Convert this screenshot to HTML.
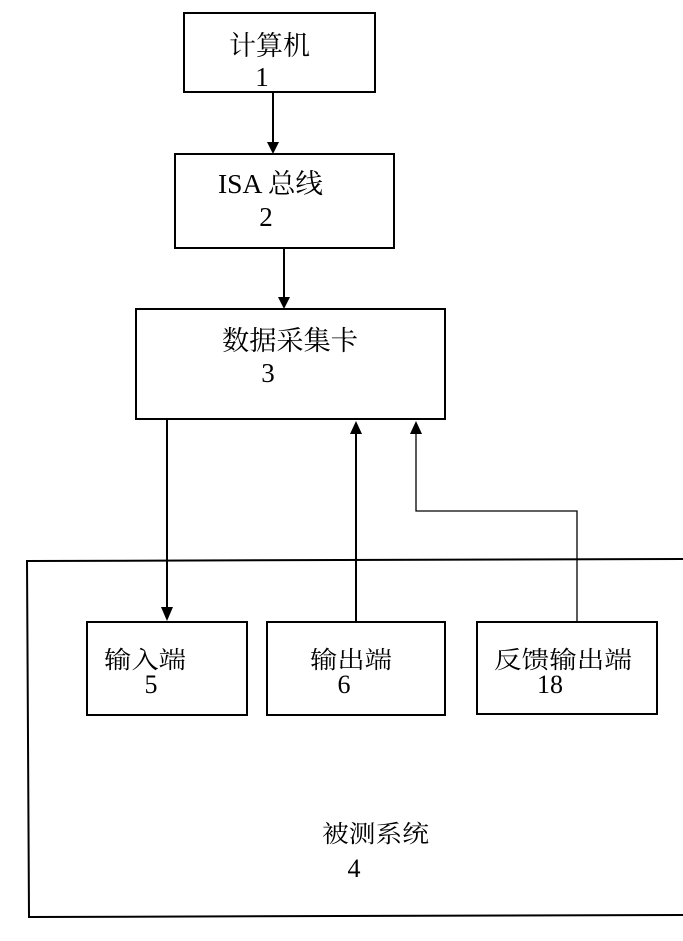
<!DOCTYPE html>
<html><head><meta charset="utf-8"><style>
html,body{margin:0;padding:0;background:#fff;}
svg{display:block;}
text{font-family:"Liberation Serif","Noto Serif CJK SC","Noto Sans CJK SC",serif;fill:#000;}
</style></head><body>
<svg width="683" height="941" viewBox="0 0 683 941" xmlns="http://www.w3.org/2000/svg">
<g fill="none" stroke="#000" stroke-width="2">
<rect x="184" y="13" width="191" height="79"/>
<rect x="175" y="154" width="219" height="94"/>
<rect x="136" y="309" width="309" height="110"/>
<rect x="87" y="622" width="160" height="93"/>
<rect x="267" y="622" width="178" height="93"/>
<rect x="477" y="622" width="180" height="92"/>
<polyline points="683,559 27,561 29,917 683,915"/>
<line x1="273" y1="92" x2="273" y2="142"/>
<line x1="284" y1="248" x2="284" y2="298"/>
<line x1="167" y1="419" x2="167" y2="608"/>
<line x1="356" y1="622" x2="356" y2="434"/>
</g>
<polyline points="577,622 577,511 416,511 416,434" fill="none" stroke="#000" stroke-width="1.3"/>
<g fill="#000">
<polygon points="267,142 279,142 273,154"/>
<polygon points="278,297 290,297 284,309"/>
<polygon points="161,607 173,607 167,621"/>
<polygon points="350,434 362,434 356,421"/>
<polygon points="410,434 422,434 416,421"/>
</g>
<g font-size="27">
<text x="229" y="55" textLength="81" lengthAdjust="spacingAndGlyphs">计算机</text>
<text x="218" y="193" textLength="105" lengthAdjust="spacingAndGlyphs">ISA 总线</text>
<text x="222" y="350" textLength="136" lengthAdjust="spacingAndGlyphs">数据采集卡</text>
</g>
<g font-size="27">
<text x="262" y="86" text-anchor="middle">1</text>
<text x="266" y="226" text-anchor="middle">2</text>
<text x="268" y="382" text-anchor="middle">3</text>
</g>
<g font-size="24">
<text x="104" y="668" textLength="82" lengthAdjust="spacingAndGlyphs">输入端</text>
<text x="310" y="668" textLength="82" lengthAdjust="spacingAndGlyphs">输出端</text>
<text x="494" y="668" textLength="138" lengthAdjust="spacingAndGlyphs">反馈输出端</text>
<text x="322" y="842" textLength="107" lengthAdjust="spacingAndGlyphs">被测系统</text>
<text x="151" y="693" font-size="26" text-anchor="middle">5</text>
<text x="344" y="693" font-size="26" text-anchor="middle">6</text>
<text x="550" y="693" font-size="26" text-anchor="middle">18</text>
<text x="354" y="877" font-size="26" text-anchor="middle">4</text>
</g>
</svg>
</body></html>
